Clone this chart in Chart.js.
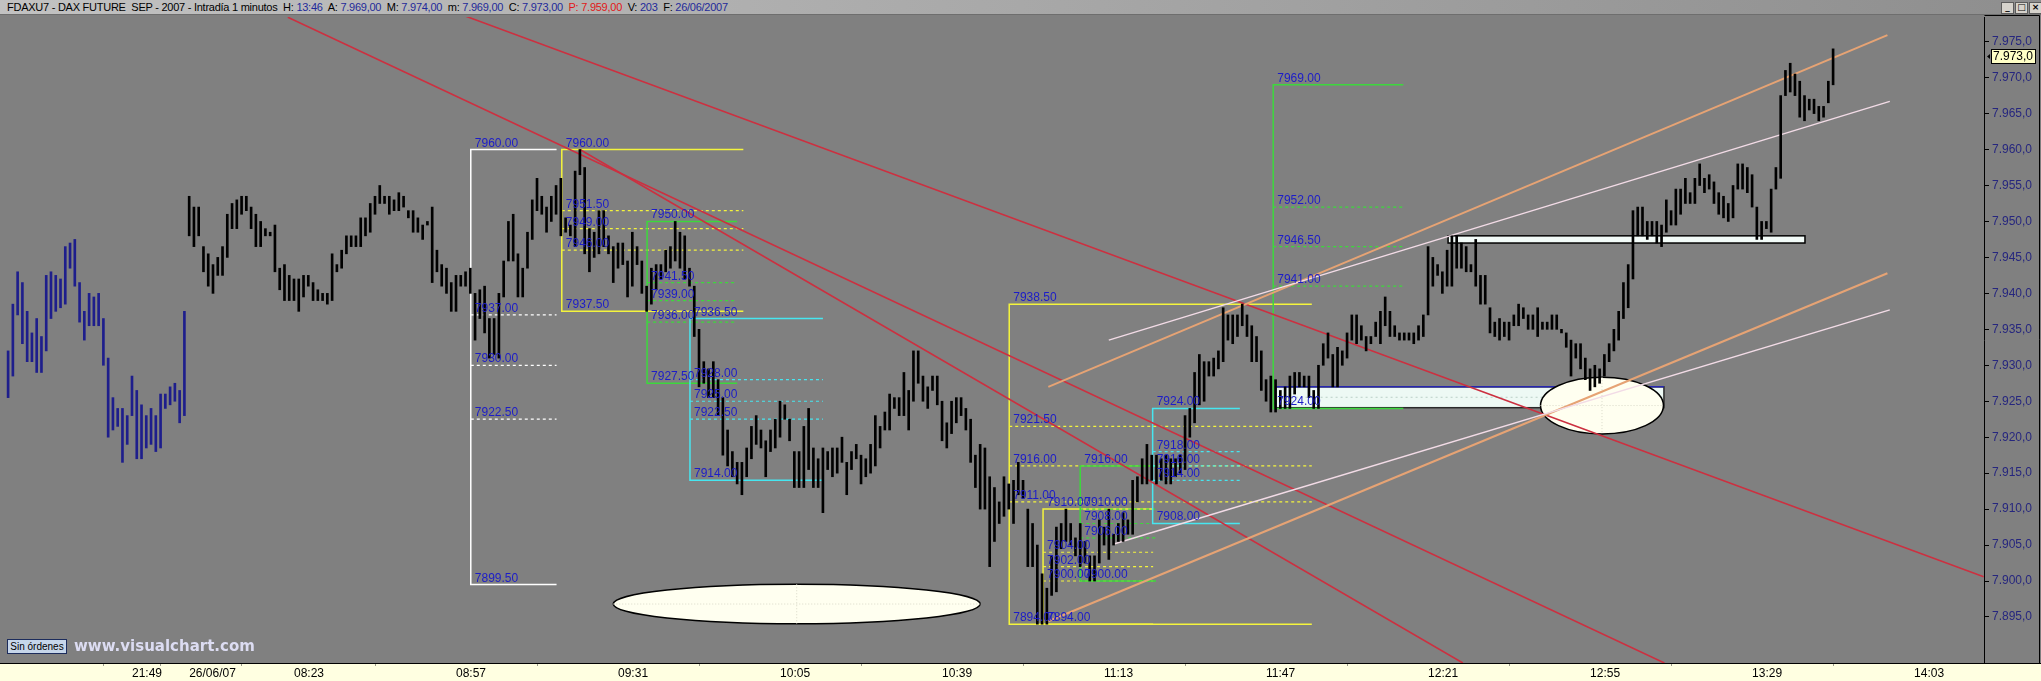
<!DOCTYPE html>
<html>
<head>
<meta charset="utf-8">
<script src="https://cdn.jsdelivr.net/npm/chart.js@4.4.0/dist/chart.umd.min.js"></script>
<style>
  html, body { margin: 0; padding: 0; background: #808080; }
  #wrap { position: relative; width: 2041px; height: 681px; overflow: hidden; }
  #chart { position: absolute; left: 0; top: 0; }
  #header {
    position: absolute; left: 0; top: 0; width: 2041px; height: 15px;
    background: linear-gradient(to right, #c2c2c2, #8e8e8e);
    border-bottom: 1px solid #6e6e6e;
    font: 11px "Liberation Sans", Arial, sans-serif; line-height: 15px; letter-spacing: -0.25px;
    color: #000; white-space: nowrap; padding-left: 7px; box-sizing: border-box;
  }
  #header .v { color: #1f2a9a; }
  #header .r { color: #e01818; }
  #buttons { position: absolute; top: 2px; left: 2001px; display: flex; gap: 1px; }
  #buttons div {
    width: 11px; height: 10px; background: #d6d3cc; border: 1px solid #5c5c5c;
    font: bold 9px "DejaVu Sans", sans-serif; line-height: 9px; text-align: center; color: #000;
  }
  #orders {
    position: absolute; left: 7px; top: 639px; width: 60px; height: 15px;
    background: #c6d6ea; border: 1px solid #1c2c5c; box-sizing: border-box;
    font: 10px "Liberation Sans", Arial, sans-serif; line-height: 13px; text-align: center; color: #000;
  }
  #brand {
    position: absolute; left: 74px; top: 637px;
    font: bold 15px "DejaVu Sans", sans-serif; color: #dcdcf2;
  }
</style>
</head>
<body>
<div id="wrap">
  <canvas id="chart" width="2041" height="681"></canvas>
  <div id="header">FDAXU7 - DAX FUTURE&nbsp; SEP - 2007 - Intradía 1 minutos&nbsp; H: <span class="v">13:46</span>&nbsp; A: <span class="v">7.969,00</span>&nbsp; M: <span class="v">7.974,00</span>&nbsp; m: <span class="v">7.969,00</span>&nbsp; C: <span class="v">7.973,00</span>&nbsp; <span class="r">P: 7.959,00</span>&nbsp; V: <span class="v">203</span>&nbsp; F: <span class="v">26/06/2007</span></div>
  <div id="buttons"><div>_</div><div>□</div><div>×</div></div>
  <div id="orders">Sin órdenes</div>
  <div id="brand">www.visualchart.com</div>
</div>
<script>
// previous session (25/06), one bar per minute from 21:23
const prevHigh = [7932.0, 7938.5, 7943.0, 7941.5, 7937.5, 7934.5, 7936.5, 7934.0, 7942.5, 7943.0,
  7942.5, 7942.0, 7946.5, 7947.0, 7947.5, 7941.5, 7937.5, 7940.0, 7939.5, 7940.0,
  7936.5, 7931.0, 7925.5, 7924.0, 7924.0, 7923.0, 7928.5, 7926.5, 7924.5, 7923.0,
  7924.0, 7923.0, 7926.0, 7926.0, 7927.0, 7927.5, 7926.5, 7937.5];
const prevLow = [7925.5, 7928.5, 7937.0, 7933.0, 7930.5, 7930.5, 7929.0, 7929.0, 7932.0, 7936.5,
  7937.5, 7938.0, 7938.5, 7943.5, 7941.0, 7936.0, 7933.5, 7935.5, 7935.5, 7935.5,
  7930.0, 7920.0, 7921.0, 7921.5, 7916.5, 7919.0, 7923.0, 7917.0, 7917.0, 7918.5,
  7919.0, 7918.0, 7918.5, 7924.0, 7924.5, 7925.0, 7922.0, 7923.0];

// session 26/06/07, one bar per minute from 08:01 to 13:46
const dayHigh = [
  7953.5, 7952.0, 7952.0, 7946.5, 7945.5, 7944.0, 7945.0, 7946.5, 7951.0, 7952.5,
  7953.0, 7953.5, 7953.5, 7952.0, 7951.0, 7950.0, 7949.0, 7948.5, 7949.5, 7943.5,
  7944.0, 7942.5, 7942.0, 7942.0, 7942.5, 7942.5, 7941.5, 7940.5, 7940.0, 7940.0,
  7945.5, 7944.0, 7946.0, 7948.0, 7948.0, 7948.0, 7950.5, 7950.5, 7952.5, 7953.5,
  7955.0, 7953.5, 7953.5, 7953.0, 7954.0, 7953.5, 7951.5, 7951.5, 7950.5, 7949.5,
  7950.0, 7952.0, 7946.0, 7944.0, 7943.5, 7941.5, 7942.5, 7942.5, 7943.0, 7943.5,
  7940.0, 7940.5, 7941.0, 7936.5, 7936.5, 7940.0, 7944.5, 7950.0, 7951.0, 7945.5,
  7943.5, 7948.5, 7953.0, 7956.0, 7953.5, 7952.0, 7953.5, 7955.0, 7956.0, 7950.5,
  7949.5, 7957.0, 7960.0, 7957.5, 7949.0, 7948.5, 7951.5, 7951.5, 7948.0, 7946.5,
  7947.0, 7947.0, 7944.5, 7948.5, 7946.5, 7944.5, 7941.0, 7943.5, 7944.0, 7944.0,
  7946.0, 7946.5, 7950.0, 7948.5, 7948.0, 7943.5, 7941.0, 7935.0, 7930.5, 7929.5,
  7930.5, 7928.0, 7925.5, 7921.0, 7918.0, 7916.5, 7916.5, 7918.5, 7921.5, 7923.0,
  7921.0, 7919.5, 7921.0, 7922.5, 7925.0, 7924.5, 7922.5, 7918.0, 7918.0, 7921.5,
  7924.0, 7918.5, 7917.0, 7918.5, 7918.0, 7918.5, 7918.5, 7920.0, 7916.5, 7918.0,
  7919.0, 7917.5, 7917.0, 7919.0, 7923.0, 7921.5, 7923.5, 7926.0, 7925.5, 7925.5,
  7929.0, 7926.5, 7932.0, 7932.0, 7928.5, 7927.0, 7928.5, 7928.5, 7925.0, 7922.0,
  7925.0, 7925.5, 7925.5, 7924.0, 7922.5, 7917.5, 7919.0, 7918.5, 7914.5, 7913.0,
  7911.0, 7914.5, 7913.5, 7914.0, 7916.5, 7914.0, 7910.0, 7908.0, 7905.0, 7901.0,
  7899.0, 7903.5, 7907.5, 7908.0, 7910.0, 7908.0, 7906.0, 7908.0, 7905.5, 7903.5,
  7903.5, 7908.5, 7907.5, 7910.0, 7906.5, 7908.0, 7909.5, 7908.5, 7914.0, 7914.5,
  7917.0, 7919.0, 7917.5, 7917.5, 7917.0, 7917.5, 7917.0, 7917.0, 7917.5, 7923.0,
  7924.0, 7929.0, 7931.5, 7930.5, 7930.5, 7931.0, 7932.0, 7938.0, 7937.0, 7937.0,
  7937.0, 7938.5, 7937.0, 7935.5, 7934.0, 7932.0, 7928.0, 7928.5, 7928.0, 7926.5,
  7927.0, 7928.5, 7929.0, 7929.0, 7928.5, 7928.5, 7926.5, 7930.0, 7933.0, 7934.5,
  7931.5, 7932.5, 7932.0, 7934.5, 7937.0, 7937.0, 7935.5, 7934.0, 7934.0, 7936.0,
  7937.5, 7939.5, 7937.5, 7935.5, 7934.5, 7934.5, 7934.5, 7934.5, 7935.5, 7937.0,
  7946.5, 7945.0, 7944.0, 7943.0, 7946.0, 7948.0, 7948.0, 7947.0, 7946.5, 7944.0,
  7947.5, 7942.5, 7942.5, 7938.0, 7936.0, 7936.5, 7936.0, 7936.0, 7937.0, 7938.5,
  7938.0, 7937.0, 7937.0, 7938.0, 7936.0, 7936.0, 7937.0, 7937.0, 7935.0, 7934.5,
  7933.5, 7933.0, 7933.0, 7931.0, 7929.5, 7930.0, 7929.5, 7931.5, 7933.0, 7935.0,
  7937.5, 7941.5, 7944.0, 7951.5, 7952.0, 7952.0, 7950.0, 7950.0, 7950.0, 7949.5,
  7953.0, 7951.5, 7954.5, 7954.5, 7956.0, 7954.0, 7956.0, 7958.0, 7956.0, 7956.5,
  7955.5, 7954.0, 7953.5, 7952.5, 7955.0, 7958.0, 7958.0, 7957.5, 7956.5, 7952.0,
  7950.0, 7950.0, 7954.5, 7957.5, 7967.5, 7971.0, 7972.0, 7970.5, 7969.5, 7967.5,
  7967.0, 7967.0, 7966.0, 7966.0, 7969.5, 7974.0];
const dayLow = [
  7948.0, 7946.5, 7948.0, 7943.0, 7941.0, 7940.0, 7942.5, 7942.5, 7945.0, 7949.0,
  7949.0, 7951.0, 7951.5, 7949.0, 7946.5, 7946.5, 7948.0, 7948.0, 7943.0, 7940.5,
  7939.0, 7939.0, 7939.0, 7937.5, 7939.5, 7941.0, 7939.0, 7939.0, 7939.0, 7938.5,
  7939.0, 7943.0, 7943.5, 7945.5, 7946.5, 7946.5, 7946.5, 7948.0, 7948.5, 7951.0,
  7952.5, 7952.5, 7951.0, 7951.5, 7951.5, 7952.0, 7950.5, 7948.5, 7948.5, 7947.5,
  7949.5, 7941.5, 7943.0, 7941.0, 7940.0, 7937.5, 7937.5, 7941.0, 7941.0, 7940.0,
  7933.5, 7936.5, 7934.5, 7931.0, 7931.5, 7931.0, 7939.5, 7944.5, 7944.5, 7939.5,
  7939.5, 7943.5, 7947.5, 7951.5, 7951.0, 7948.5, 7950.0, 7951.0, 7948.0, 7948.5,
  7948.0, 7946.5, 7956.5, 7945.5, 7943.0, 7945.0, 7945.5, 7946.5, 7945.5, 7941.5,
  7943.5, 7944.0, 7939.5, 7941.0, 7944.0, 7940.0, 7937.5, 7938.5, 7940.5, 7942.0,
  7943.0, 7943.5, 7944.5, 7943.5, 7942.0, 7941.0, 7934.0, 7927.0, 7927.5, 7925.5,
  7925.5, 7923.0, 7917.5, 7916.0, 7914.5, 7913.5, 7912.0, 7914.5, 7917.0, 7919.0,
  7918.5, 7914.5, 7918.0, 7918.5, 7920.0, 7922.5, 7919.5, 7913.0, 7913.0, 7913.0,
  7915.5, 7913.0, 7913.0, 7909.5, 7915.5, 7914.5, 7915.0, 7916.5, 7912.0, 7915.5,
  7917.0, 7913.5, 7914.5, 7915.0, 7916.0, 7918.5, 7921.0, 7921.0, 7924.0, 7923.0,
  7923.0, 7921.0, 7925.0, 7927.5, 7925.0, 7924.0, 7926.5, 7924.5, 7919.5, 7918.5,
  7920.5, 7922.0, 7923.0, 7921.0, 7916.5, 7913.0, 7910.0, 7910.0, 7902.0, 7905.5,
  7908.0, 7909.0, 7910.0, 7908.0, 7912.0, 7911.5, 7902.0, 7902.0, 7894.0, 7894.0,
  7894.0, 7898.0, 7898.5, 7904.5, 7905.5, 7905.0, 7903.5, 7902.0, 7902.5, 7900.0,
  7900.0, 7902.5, 7905.0, 7903.0, 7905.0, 7905.5, 7905.5, 7906.5, 7906.5, 7911.0,
  7913.5, 7913.5, 7914.0, 7913.5, 7914.0, 7913.5, 7913.5, 7914.5, 7915.0, 7915.5,
  7920.0, 7922.0, 7924.5, 7925.0, 7928.5, 7928.5, 7929.5, 7930.5, 7933.5, 7933.0,
  7934.0, 7935.5, 7934.0, 7930.5, 7930.5, 7926.5, 7925.0, 7923.5, 7923.5, 7924.0,
  7924.0, 7924.0, 7926.0, 7927.0, 7927.0, 7925.5, 7924.0, 7924.0, 7930.0, 7931.0,
  7927.0, 7927.0, 7930.0, 7931.0, 7933.5, 7933.0, 7933.5, 7932.0, 7933.0, 7934.0,
  7933.0, 7935.5, 7934.0, 7934.0, 7933.5, 7933.5, 7933.5, 7933.0, 7933.5, 7934.0,
  7937.0, 7941.0, 7942.5, 7940.0, 7941.0, 7941.0, 7943.5, 7943.5, 7943.0, 7943.0,
  7941.0, 7938.5, 7938.5, 7934.5, 7934.0, 7933.5, 7934.0, 7933.5, 7935.5, 7935.5,
  7936.5, 7935.0, 7935.0, 7934.0, 7935.0, 7935.0, 7935.0, 7935.0, 7934.5, 7932.5,
  7928.5, 7931.0, 7929.5, 7928.0, 7926.5, 7927.0, 7927.5, 7928.5, 7930.5, 7932.0,
  7933.5, 7936.5, 7938.0, 7942.0, 7948.0, 7948.0, 7947.5, 7948.0, 7947.0, 7946.5,
  7948.5, 7949.5, 7949.5, 7951.0, 7952.5, 7952.5, 7952.5, 7955.0, 7954.0, 7954.5,
  7952.5, 7951.0, 7950.5, 7950.0, 7950.5, 7954.5, 7954.5, 7954.0, 7952.0, 7947.5,
  7947.5, 7949.0, 7948.5, 7954.5, 7956.0, 7967.5, 7968.0, 7967.5, 7964.5, 7964.0,
  7965.5, 7965.0, 7964.0, 7964.5, 7966.5, 7969.0];
const firstDayIndex = 38;
const lastClose = 7973;

// axis labels
const timeTickIndex = [26, 38, 60, 94, 128, 162, 196, 230, 264, 298, 332, 366, 400];
const timeTickText = ['21:49', '26/06/07', '08:23', '08:57', '09:31', '10:05', '10:39',
  '11:13', '11:47', '12:21', '12:55', '13:29', '14:03'];
const priceTicks = [7895, 7900, 7905, 7910, 7915, 7920, 7925, 7930, 7935, 7940,
  7945, 7950, 7955, 7960, 7965, 7970, 7975];

// Fibonacci retracements drawn on the chart (bar index, price)
const fibs = [
  { kind: 'white',  from: 97.1,  to: 115.1, top: 7960.0, bottom: 7899.5, levels: [7937.0, 7930.0, 7922.5] },
  { kind: 'yellow', from: 116.2, to: 154.3, top: 7960.0, bottom: 7937.5, levels: [7951.5, 7949.0, 7946.0] },
  { kind: 'green',  from: 134.1, to: 153.0, top: 7950.0, bottom: 7927.5, levels: [7941.5, 7939.0, 7936.0] },
  { kind: 'cyan',   from: 143.1, to: 171.0, top: 7936.5, bottom: 7914.0, levels: [7928.0, 7925.0, 7922.5] },
  { kind: 'yellow', from: 210.1, to: 273.6, top: 7938.5, bottom: 7894.0, levels: [7921.5, 7916.0, 7911.0] },
  { kind: 'yellow', from: 217.2, to: 240.3, top: 7910.0, bottom: 7894.0, levels: [7904.0, 7902.0, 7900.0] },
  { kind: 'green',  from: 225.0, to: 240.9, top: 7916.0, bottom: 7900.0, levels: [7910.0, 7908.0, 7906.0] },
  { kind: 'cyan',   from: 240.2, to: 258.5, top: 7924.0, bottom: 7908.0, levels: [7918.0, 7916.0, 7914.0] },
  { kind: 'green',  from: 265.5, to: 292.8, top: 7969.0, bottom: 7924.0, levels: [7952.0, 7946.5, 7941.0] }
];

// trend lines and channels (bar index, price)
const trendLines = [
  { kind: 'red',    from: [58.7, 7978.4],  to: [347.6, 7888.6] },
  { kind: 'red',    from: [95.8, 7978.6],  to: [414.6, 7900.6] },
  { kind: 'red',    from: [120.0, 7960.0], to: [305.3, 7888.6] },
  { kind: 'orange', from: [218.3, 7927.0], to: [394.4, 7975.9] },
  { kind: 'orange', from: [218.3, 7894.4], to: [394.4, 7942.8] },
  { kind: 'pink',   from: [231.0, 7933.5], to: [394.9, 7966.7] },
  { kind: 'pink',   from: [231.9, 7905.1], to: [394.9, 7937.7] }
];

// rectangles and ellipses (bar index, price)
const zones = [
  { kind: 'support',    from: 266.0, to: 347.5, low: 7924.1, high: 7927.0 },
  { kind: 'resistance', from: 302.2, to: 377.1, low: 7947.0, high: 7948.0 }
];
const ellipses = [
  { cx: 165.5, cy: 7896.8, rx: 38.5, ry: 2.75 },
  { cx: 334.5, cy: 7924.4, rx: 12.9, ry: 3.95 }
];

const fibColor = { white: '#ffffff', yellow: '#f4f43c', green: '#3cd83c', cyan: '#46e6f0' };
const lineStyle = {
  red:    { color: '#cc3040', width: 1.6 },
  orange: { color: '#e6a374', width: 2 },
  pink:   { color: '#f2dbe6', width: 1.5 }
};
const zoneStyle = {
  support:    { fill: '#edf9f4', edge: '#2a2a2a', top: '#2626b0' },
  resistance: { fill: '#f2fbf8', edge: '#000000', top: null }
};

function fmtPrice(v) {
  const s = Math.round(v).toString();
  return s.slice(0, 1) + '.' + s.slice(1) + ',0';
}

const paintBackground = {
  id: 'paintBackground',
  beforeDraw(chart) {
    const c = chart.ctx, a = chart.chartArea;
    c.save();
    c.fillStyle = '#808080';
    c.fillRect(0, 0, chart.width, chart.height);
    c.fillStyle = '#ffffe1';
    c.fillRect(0, a.bottom, chart.width, chart.height - a.bottom);
    c.restore();
  }
};

const drawings = {
  id: 'drawings',
  beforeDatasetsDraw(chart) {
    const c = chart.ctx, a = chart.chartArea;
    const x = chart.scales.x, y = chart.scales.y;
    c.save();
    c.beginPath();
    c.rect(a.left, a.top, a.right - a.left, a.bottom - a.top);
    c.clip();

    // rectangles
    zones.forEach(z => {
      const st = zoneStyle[z.kind];
      const x0 = x.getPixelForValue(z.from), x1 = x.getPixelForValue(z.to);
      const y0 = y.getPixelForValue(z.high), y1 = y.getPixelForValue(z.low);
      c.fillStyle = st.fill;
      c.fillRect(x0, y0, x1 - x0, y1 - y0);
      c.strokeStyle = st.edge;
      c.lineWidth = 1.5;
      c.strokeRect(x0, y0, x1 - x0, y1 - y0);
      if (st.top) {
        c.strokeStyle = st.top;
        c.beginPath(); c.moveTo(x0, y0); c.lineTo(x1, y0); c.stroke();
        c.strokeStyle = '#b9cfc6';
        c.lineWidth = 1;
        c.setLineDash([2, 3]);
        const ym = (y0 + y1) / 2;
        c.beginPath(); c.moveTo(x0, ym); c.lineTo(x1, ym); c.stroke();
        c.setLineDash([]);
      }
    });

    // ellipses
    ellipses.forEach(e => {
      const cx = x.getPixelForValue(e.cx), cy = y.getPixelForValue(e.cy);
      const rx = x.getPixelForValue(e.cx + e.rx) - cx;
      const ry = cy - y.getPixelForValue(e.cy + e.ry);
      c.beginPath();
      c.ellipse(cx, cy, rx, ry, 0, 0, Math.PI * 2);
      c.fillStyle = '#fffff0';
      c.fill();
      c.strokeStyle = '#000';
      c.lineWidth = 1.5;
      c.stroke();
      c.strokeStyle = '#d8d8c8';
      c.lineWidth = 1;
      c.setLineDash([1, 2]);
      c.beginPath();
      c.moveTo(cx, cy - ry); c.lineTo(cx, cy + ry);
      c.moveTo(cx - rx, cy); c.lineTo(cx + rx, cy);
      c.stroke();
      c.setLineDash([]);
    });

    // fibonacci boxes
    fibs.forEach(f => {
      const x0 = x.getPixelForValue(f.from), x1 = x.getPixelForValue(f.to);
      const yt = y.getPixelForValue(f.top), yb = y.getPixelForValue(f.bottom);
      c.strokeStyle = fibColor[f.kind];
      c.lineWidth = 1.5;
      c.beginPath();
      c.moveTo(x1, yt); c.lineTo(x0, yt); c.lineTo(x0, yb); c.lineTo(x1, yb);
      c.stroke();
      c.setLineDash([3, 3]);
      c.lineWidth = 1.2;
      f.levels.forEach(v => {
        const yl = y.getPixelForValue(v);
        c.beginPath(); c.moveTo(x0, yl); c.lineTo(x1, yl); c.stroke();
      });
      c.setLineDash([]);
    });

    // trend lines
    trendLines.forEach(t => {
      const st = lineStyle[t.kind];
      c.strokeStyle = st.color;
      c.lineWidth = st.width;
      c.beginPath();
      c.moveTo(x.getPixelForValue(t.from[0]), y.getPixelForValue(t.from[1]));
      c.lineTo(x.getPixelForValue(t.to[0]), y.getPixelForValue(t.to[1]));
      c.stroke();
    });
    c.restore();
  },
  afterDatasetsDraw(chart) {
    const c = chart.ctx;
    const x = chart.scales.x, y = chart.scales.y;
    c.save();
    c.font = '12px "Liberation Sans", Arial, sans-serif';
    c.fillStyle = '#1c1cc8';
    c.textBaseline = 'alphabetic';
    c.textAlign = 'left';
    fibs.forEach(f => {
      const x0 = x.getPixelForValue(f.from) + 4;
      [f.top, ...f.levels, f.bottom].forEach(v => {
        c.fillText(v.toFixed(2), x0, y.getPixelForValue(v) - 3);
      });
    });
    c.restore();
  },
  afterDraw(chart) {
    const c = chart.ctx, a = chart.chartArea;
    const y = chart.scales.y;
    c.save();
    // axis frame
    c.strokeStyle = '#000';
    c.lineWidth = 1;
    c.beginPath();
    c.moveTo(a.right + 0.5, 15.5); c.lineTo(chart.width - 1.5, 15.5); c.lineTo(chart.width - 1.5, a.bottom);
    c.moveTo(0, a.bottom + 0.5); c.lineTo(chart.width, a.bottom + 0.5);
    c.stroke();
    // last price marker
    const yp = Math.round(y.getPixelForValue(lastClose));
    const bx = a.right + 7;
    c.fillStyle = '#ffffc6';
    c.fillRect(bx, yp - 7, 44, 15);
    c.strokeRect(bx + 0.5, yp - 6.5, 44, 14);
    c.fillStyle = '#000';
    c.font = '12px "Liberation Sans", Arial, sans-serif';
    c.textBaseline = 'middle';
    c.fillText(fmtPrice(lastClose), bx + 2, yp + 1);
    c.beginPath();
    c.moveTo(bx - 1, yp - 2); c.lineTo(bx - 1, yp + 3); c.lineTo(bx - 4, yp + 0.5); c.closePath();
    c.fill();
    c.restore();
  }
};

const prevBars = prevHigh.map((h, i) => ({ x: i, y: [prevLow[i], h] }));
const dayBars = dayHigh.map((h, i) => ({ x: firstDayIndex + i, y: [dayLow[i], h] }));

Chart.defaults.font.family = '"Liberation Sans", Arial, sans-serif';

new Chart(document.getElementById('chart'), {
  type: 'bar',
  data: {
    datasets: [
      { label: '25/06', data: prevBars, backgroundColor: '#1e1e8c', barThickness: 2, grouped: false, borderWidth: 0 },
      { label: '26/06', data: dayBars, backgroundColor: '#000000', barThickness: 2, grouped: false, borderWidth: 0 }
    ]
  },
  options: {
    responsive: false,
    animation: false,
    devicePixelRatio: 1,
    layout: { padding: { top: 17, left: 0, right: 0, bottom: 0 } },
    plugins: { legend: { display: false }, tooltip: { enabled: false } },
    scales: {
      x: {
        type: 'linear',
        min: -1.7,
        max: 414.67,
        offset: false,
        afterFit: s => { s.height = 18; },
        afterBuildTicks: s => { s.ticks = timeTickIndex.map(v => ({ value: v })); },
        grid: { display: true, drawOnChartArea: false, drawTicks: true, tickLength: 3, color: '#9a9a8a' },
        border: { display: true, color: '#000' },
        ticks: {
          autoSkip: false, maxRotation: 0, align: 'start', padding: 0,
          color: '#000', font: { size: 12 },
          callback: (v, i) => timeTickText[i]
        }
      },
      y: {
        position: 'right',
        min: 7888.6,
        max: 7978.43,
        afterFit: s => { s.width = 57; },
        afterBuildTicks: s => { s.ticks = priceTicks.map(v => ({ value: v })); },
        grid: { display: true, drawOnChartArea: false, drawTicks: true, tickLength: 5, color: '#000' },
        border: { display: true, color: '#000' },
        ticks: { color: '#26267e', font: { size: 12 }, padding: 3, callback: v => fmtPrice(v) }
      }
    }
  },
  plugins: [paintBackground, drawings]
});
</script>
</body>
</html>
